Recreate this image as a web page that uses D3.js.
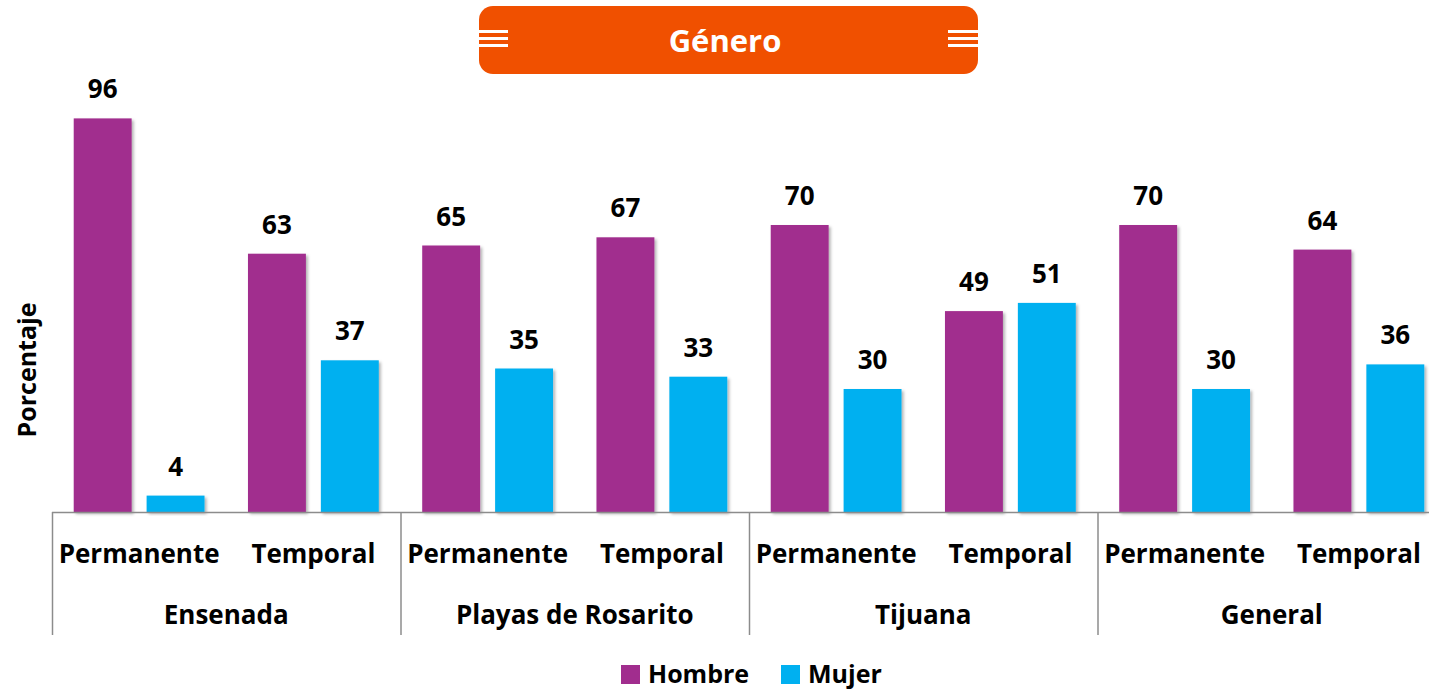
<!DOCTYPE html>
<html>
<head>
<meta charset="utf-8">
<script src="https://cdn.jsdelivr.net/npm/d3@7"></script>
<style>
  body { margin: 0; background: #fff; }
  text { font-family: "Open Sans", "Noto Sans", sans-serif; font-weight: bold; }
</style>
</head>
<body>
<div id="chart"></div>
<script>
// data
var groups = ['Ensenada', 'Playas de Rosarito', 'Tijuana', 'General'];
var types = ['Permanente', 'Temporal'];
var series = ['Hombre', 'Mujer'];
var hombre = [96, 63, 65, 67, 70, 49, 70, 64];
var mujer = [4, 37, 35, 33, 30, 51, 30, 36];
var colors = ['#a12d8e', '#00b0f0'];

var width = 1429, height = 690;
var plotLeft = 52, plotRight = 1446, base = 512, plotTop = 102;

var svg = d3.select('#chart').append('svg')
  .attr('width', width)
  .attr('height', height);

var defs = svg.append('defs');
var f = defs.append('filter').attr('id', 'shadow')
  .attr('x', '-10%').attr('y', '-10%').attr('width', '130%').attr('height', '130%');
f.append('feDropShadow').attr('dx', 2).attr('dy', 2).attr('stdDeviation', 1.5)
  .attr('flood-color', '#000').attr('flood-opacity', 0.3);

// categories = group x type
var cats = [];
groups.forEach(function(g){
  types.forEach(function(t){ cats.push(g + '|' + t); });
});

var x0 = d3.scaleBand().domain(groups).range([plotLeft, plotRight]);
var x = d3.scaleBand().domain(cats).range([plotLeft, plotRight]);
var x1 = d3.scaleBand().domain(series).range([0, x.bandwidth()])
  .paddingInner(0.2055).paddingOuter(0.298);
var y = d3.scaleLinear().domain([0, 100]).range([base, plotTop]);

var rows = cats.map(function(c, i){
  return { cat: c, values: [hombre[i], mujer[i]] };
});

var cg = svg.selectAll('g.cat').data(rows)
  .enter().append('g')
  .attr('class', 'cat')
  .attr('transform', function(d){ return 'translate(' + x(d.cat) + ',0)'; });

cg.selectAll('rect').data(function(d){
    return d.values.map(function(v, j){ return { s: series[j], v: v, j: j }; });
  })
  .enter().append('rect')
  .attr('x', function(d){ return x1(d.s); })
  .attr('y', function(d){ return y(d.v); })
  .attr('width', x1.bandwidth())
  .attr('height', function(d){ return base - y(d.v); })
  .attr('fill', function(d){ return colors[d.j]; })
  .attr('filter', 'url(#shadow)');

cg.selectAll('text.val').data(function(d){
    return d.values.map(function(v, j){ return { s: series[j], v: v }; });
  })
  .enter().append('text')
  .attr('class', 'val')
  .attr('x', function(d){ return x1(d.s) + x1.bandwidth() / 2; })
  .attr('y', function(d){ return y(d.v) - 20; })
  .attr('text-anchor', 'middle')
  .attr('font-size', 26)
  .attr('fill', '#000')
  .text(function(d){ return d.v; });

// axis line and group separators
svg.append('line')
  .attr('x1', plotLeft).attr('x2', plotRight)
  .attr('y1', base + 0.5).attr('y2', base + 0.5)
  .attr('stroke', '#8c8c8c').attr('stroke-width', 1.5);

svg.selectAll('line.sep').data(groups)
  .enter().append('line')
  .attr('class', 'sep')
  .attr('x1', function(d){ return x0(d) + 0.5; })
  .attr('x2', function(d){ return x0(d) + 0.5; })
  .attr('y1', base).attr('y2', 635)
  .attr('stroke', '#8c8c8c').attr('stroke-width', 1.5);

svg.selectAll('text.type').data(cats)
  .enter().append('text')
  .attr('class', 'type')
  .attr('x', function(d){ return x(d) + x.bandwidth() / 2; })
  .attr('y', 563)
  .attr('text-anchor', 'middle')
  .attr('font-size', 26)
  .text(function(d){ return d.split('|')[1]; });

svg.selectAll('text.group').data(groups)
  .enter().append('text')
  .attr('class', 'group')
  .attr('x', function(d){ return x0(d) + x0.bandwidth() / 2; })
  .attr('y', 624)
  .attr('text-anchor', 'middle')
  .attr('font-size', 26)
  .text(function(d){ return d; });

// y label
svg.append('text')
  .attr('transform', 'translate(36,370) rotate(-90)')
  .attr('text-anchor', 'middle')
  .attr('font-size', 25)
  .text('Porcentaje');

// title banner
var banner = svg.append('g');
banner.append('rect')
  .attr('x', 479).attr('y', 6).attr('width', 499).attr('height', 68)
  .attr('rx', 14).attr('fill', '#f05000');
[30, 37, 44].forEach(function(ly){
  banner.append('rect').attr('x', 479).attr('y', ly).attr('width', 29).attr('height', 3).attr('fill', '#fff');
  banner.append('rect').attr('x', 948).attr('y', ly).attr('width', 30).attr('height', 3).attr('fill', '#fff');
});
banner.append('text')
  .attr('x', 725).attr('y', 52)
  .attr('text-anchor', 'middle')
  .attr('font-size', 31)
  .attr('fill', '#fff')
  .text('Género');

// legend
var legX = [621, 781];
var leg = svg.selectAll('g.leg').data(series)
  .enter().append('g')
  .attr('class', 'leg')
  .attr('transform', function(d, i){ return 'translate(' + legX[i] + ',665)'; });
leg.append('rect')
  .attr('width', 19).attr('height', 19)
  .attr('fill', function(d, i){ return colors[i]; });
leg.append('text')
  .attr('x', 27).attr('y', 18)
  .attr('font-size', 25)
  .text(function(d){ return d; });
</script>
</body>
</html>
